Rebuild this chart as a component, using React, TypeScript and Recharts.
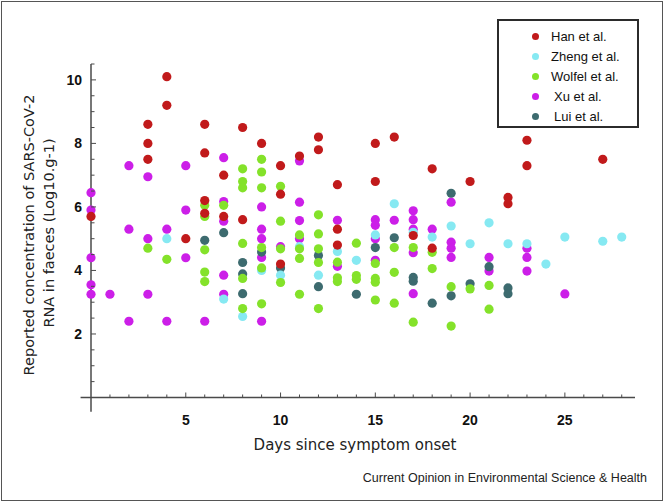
import React from 'react';
import { ScatterChart, Scatter, XAxis, YAxis, ReferenceLine, Legend } from 'recharts';

type Pt = { day: number; value: number };

// values (days since onset, log10 copies/g)
const hanData: Pt[] = [
  { day: 0, value: 5.7 },
  { day: 3, value: 8.6 }, { day: 3, value: 8.0 }, { day: 3, value: 7.5 },
  { day: 4, value: 10.1 }, { day: 4, value: 9.2 },
  { day: 5, value: 5.0 },
  { day: 6, value: 8.6 }, { day: 6, value: 7.7 }, { day: 6, value: 6.2 }, { day: 6, value: 5.8 },
  { day: 7, value: 7.0 }, { day: 7, value: 5.7 },
  { day: 8, value: 8.5 }, { day: 8, value: 5.6 },
  { day: 9, value: 8.0 },
  { day: 10, value: 7.3 }, { day: 10, value: 6.4 }, { day: 10, value: 4.2 },
  { day: 11, value: 7.6 },
  { day: 12, value: 8.2 }, { day: 12, value: 7.8 },
  { day: 13, value: 6.7 }, { day: 13, value: 5.3 }, { day: 13, value: 4.8 },
  { day: 15, value: 8.0 }, { day: 15, value: 6.8 },
  { day: 16, value: 8.2 },
  { day: 17, value: 5.1 },
  { day: 18, value: 7.2 }, { day: 18, value: 4.7 },
  { day: 20, value: 6.8 },
  { day: 22, value: 6.3 }, { day: 22, value: 6.1 },
  { day: 23, value: 8.1 }, { day: 23, value: 7.3 },
  { day: 27, value: 7.5 },
];

const zhengData: Pt[] = [
  { day: 4, value: 5.0 },
  { day: 7, value: 3.1 },
  { day: 8, value: 2.55 },
  { day: 9, value: 4.0 },
  { day: 10, value: 3.85 },
  { day: 11, value: 4.75 },
  { day: 12, value: 3.85 },
  { day: 13, value: 4.6 },
  { day: 14, value: 4.32 },
  { day: 15, value: 5.12 },
  { day: 16, value: 6.1 },
  { day: 17, value: 5.2 },
  { day: 18, value: 5.05 },
  { day: 19, value: 5.4 },
  { day: 20, value: 4.84 },
  { day: 21, value: 5.5 },
  { day: 22, value: 4.84 },
  { day: 23, value: 4.84 },
  { day: 24, value: 4.2 },
  { day: 25, value: 5.05 },
  { day: 27, value: 4.92 },
  { day: 28, value: 5.05 },
];

const wolfelData: Pt[] = [
  { day: 3, value: 4.7 },
  { day: 4, value: 4.35 },
  { day: 6, value: 6.05 }, { day: 6, value: 5.7 }, { day: 6, value: 4.65 }, { day: 6, value: 3.95 }, { day: 6, value: 3.65 },
  { day: 7, value: 6.05 },
  { day: 8, value: 7.2 }, { day: 8, value: 6.8 }, { day: 8, value: 6.6 }, { day: 8, value: 4.85 }, { day: 8, value: 3.75 }, { day: 8, value: 2.8 },
  { day: 9, value: 7.5 }, { day: 9, value: 7.1 }, { day: 9, value: 6.6 }, { day: 9, value: 4.72 }, { day: 9, value: 4.08 }, { day: 9, value: 2.95 },
  { day: 10, value: 6.65 }, { day: 10, value: 5.55 }, { day: 10, value: 4.68 }, { day: 10, value: 3.62 },
  { day: 11, value: 5.12 }, { day: 11, value: 4.68 }, { day: 11, value: 4.38 }, { day: 11, value: 3.25 },
  { day: 12, value: 5.75 }, { day: 12, value: 5.15 }, { day: 12, value: 4.68 }, { day: 12, value: 4.25 }, { day: 12, value: 2.8 },
  { day: 13, value: 4.26 }, { day: 13, value: 3.77 }, { day: 13, value: 3.65 },
  { day: 14, value: 4.86 }, { day: 14, value: 3.84 }, { day: 14, value: 3.72 },
  { day: 15, value: 4.22 }, { day: 15, value: 3.75 }, { day: 15, value: 3.63 }, { day: 15, value: 3.07 },
  { day: 16, value: 4.72 }, { day: 16, value: 3.94 }, { day: 16, value: 2.97 },
  { day: 17, value: 4.72 }, { day: 17, value: 2.37 },
  { day: 18, value: 4.57 }, { day: 18, value: 4.06 },
  { day: 19, value: 3.49 }, { day: 19, value: 2.25 },
  { day: 20, value: 3.42 },
  { day: 21, value: 3.53 }, { day: 21, value: 2.78 },
];

const xuData: Pt[] = [
  { day: 0, value: 6.45 }, { day: 0, value: 5.9 }, { day: 0, value: 4.4 }, { day: 0, value: 3.55 }, { day: 0, value: 3.25 },
  { day: 1, value: 3.25 },
  { day: 2, value: 7.3 }, { day: 2, value: 5.3 }, { day: 2, value: 2.4 },
  { day: 3, value: 6.95 }, { day: 3, value: 5.0 }, { day: 3, value: 3.25 },
  { day: 4, value: 5.3 }, { day: 4, value: 2.4 },
  { day: 5, value: 7.3 }, { day: 5, value: 5.9 }, { day: 5, value: 4.4 },
  { day: 6, value: 2.4 },
  { day: 7, value: 7.55 }, { day: 7, value: 6.17 }, { day: 7, value: 5.55 }, { day: 7, value: 3.85 }, { day: 7, value: 3.25 },
  { day: 9, value: 6.0 }, { day: 9, value: 5.3 }, { day: 9, value: 5.0 }, { day: 9, value: 4.41 }, { day: 9, value: 2.4 },
  { day: 10, value: 4.75 },
  { day: 11, value: 7.45 }, { day: 11, value: 6.15 }, { day: 11, value: 5.57 }, { day: 11, value: 5.0 },
  { day: 13, value: 5.58 }, { day: 13, value: 4.13 },
  { day: 15, value: 5.6 }, { day: 15, value: 5.42 }, { day: 15, value: 5.0 }, { day: 15, value: 4.32 },
  { day: 16, value: 5.58 },
  { day: 17, value: 5.88 }, { day: 17, value: 5.6 }, { day: 17, value: 5.3 }, { day: 17, value: 4.56 }, { day: 17, value: 3.27 },
  { day: 18, value: 5.3 },
  { day: 19, value: 6.15 }, { day: 19, value: 4.89 }, { day: 19, value: 4.7 }, { day: 19, value: 4.41 },
  { day: 21, value: 4.41 }, { day: 21, value: 3.98 },
  { day: 23, value: 4.7 }, { day: 23, value: 4.41 }, { day: 23, value: 3.98 },
  { day: 25, value: 3.26 },
];

const luiData: Pt[] = [
  { day: 6, value: 4.95 },
  { day: 7, value: 5.19 },
  { day: 8, value: 4.25 }, { day: 8, value: 3.89 }, { day: 8, value: 3.27 },
  { day: 9, value: 4.58 },
  { day: 10, value: 4.08 },
  { day: 12, value: 4.47 }, { day: 12, value: 3.49 },
  { day: 14, value: 3.25 },
  { day: 15, value: 4.72 },
  { day: 16, value: 5.03 },
  { day: 17, value: 3.78 }, { day: 17, value: 3.66 },
  { day: 18, value: 2.97 },
  { day: 19, value: 6.43 }, { day: 19, value: 3.2 },
  { day: 20, value: 3.58 },
  { day: 21, value: 4.12 },
  { day: 22, value: 3.45 }, { day: 22, value: 3.27 },
];

const xTicks = [1, 2, 3, 4, 5, 6, 7, 8, 9, 10, 11, 12, 13, 14, 15, 16, 17, 18, 19, 20, 21, 22, 23, 24, 25, 26, 27, 28];
const xLabelTicks = [5, 10, 15, 20, 25];
const yTicks = [0.5, 1, 1.5, 2, 2.5, 3, 3.5, 4, 4.5, 5, 5.5, 6, 6.5, 7, 7.5, 8, 8.5, 9, 9.5, 10, 10.5];
const yLabelTicks = [2, 4, 6, 8, 10];

const legendOrder = ['Han et al.', 'Zheng et al.', 'Wolfel et al.', 'Xu et al.', 'Lui et al.'];

const series = [
  { name: 'Xu et al.', color: '#cc1fe8', data: xuData },
  { name: 'Lui et al.', color: '#3d6b6f', data: luiData },
  { name: 'Zheng et al.', color: '#86e9f2', data: zhengData },
  { name: 'Wolfel et al.', color: '#84e22a', data: wolfelData },
  { name: 'Han et al.', color: '#c11a1b', data: hanData },
];

const axisColor = '#4a4a4a';
const sans = '"DejaVu Sans", "Liberation Sans", sans-serif';

const Dot = (props: any) => <circle cx={props.cx} cy={props.cy} r={4.6} fill={props.fill} />;

const XTick = (props: any) => {
  const { x, y, payload } = props;
  const major = xLabelTicks.includes(payload.value);
  return (
    <g>
      <line x1={x} y1={y} x2={x} y2={y - (major ? 5 : 3)} stroke={axisColor} strokeWidth={1} />
      {major && (
        <text x={x} y={y + 27} textAnchor="middle" fontFamily='"Liberation Sans", Arial, sans-serif' fontWeight="bold" fontSize={14} fill="#111">
          {payload.value}
        </text>
      )}
    </g>
  );
};

const YTick = (props: any) => {
  const { x, y, payload } = props;
  const major = yLabelTicks.includes(payload.value);
  return (
    <g>
      <line x1={x} y1={y} x2={x + (major ? 5 : 3.5)} y2={y} stroke={axisColor} strokeWidth={1} />
      {major && (
        <text x={x - 9} y={y + 5} textAnchor="end" fontFamily='"Liberation Sans", Arial, sans-serif' fontWeight="bold" fontSize={14} fill="#111">
          {payload.value}
        </text>
      )}
    </g>
  );
};

const LegendBox = () => (
  <div
    style={{
      position: 'absolute', left: 497, top: 19, width: 142, height: 109, boxSizing: 'border-box',
      border: '2px solid #2b2b2b', background: '#fff', fontFamily: '"Liberation Sans", Arial, sans-serif', fontSize: 13, color: '#111',
    }}
  >
    {legendOrder.map((name, i) => {
      const s = series.find((d) => d.name === name)!;
      return (
        <div key={name} style={{ position: 'absolute', left: 33, top: 6 + i * 20, height: 18, display: 'flex', alignItems: 'center' }}>
          <span style={{ width: 7, height: 7, borderRadius: '50%', background: s.color, display: 'inline-block' }} />
          <span style={{ marginLeft: 12 + (i >= 3 ? 3 : 0) }}>{name}</span>
        </div>
      );
    })}
  </div>
);

export default function App() {
  return (
    <div style={{ position: 'absolute', left: 0, top: 0, width: 666, height: 504, background: '#fff' }}>
      <div style={{ position: 'absolute', left: 1, top: 1, width: 662, height: 500, border: '1.5px solid #555', boxSizing: 'border-box' }} />
      <ScatterChart width={666} height={504} margin={{ top: 64, right: 31, bottom: 76.5, left: 51 }}>
        <XAxis
          type="number" dataKey="day" domain={[0, 28.7]} ticks={xTicks} interval={0}
          axisLine={false} tickLine={false} tickSize={0} tickMargin={0} height={30} tick={<XTick />}
        />
        <YAxis
          type="number" dataKey="value" domain={[0, 10.5]} ticks={yTicks} interval={0}
          axisLine={false} tickLine={false} tickSize={0} tickMargin={0} width={40} tick={<YTick />}
        />
        <ReferenceLine segment={[{ x: -0.55, y: 0 }, { x: 28.7, y: 0 }]} stroke={axisColor} strokeWidth={1.5} ifOverflow="visible" />
        <ReferenceLine segment={[{ x: 0, y: -0.45 }, { x: 0, y: 10.5 }]} stroke={axisColor} strokeWidth={1.5} ifOverflow="visible" />
        {series.map((s) => (
          <Scatter key={s.name} name={s.name} data={s.data} fill={s.color} shape={<Dot />} isAnimationActive={false} />
        ))}
        <Legend content={() => null} />
      </ScatterChart>
      <svg width={666} height={504} style={{ position: 'absolute', left: 0, top: 0, pointerEvents: 'none' }}>
        <text transform="translate(34,235) rotate(-90)" textAnchor="middle" fontFamily={sans} fontSize={14.5} fill="#222">
          Reported concentration of SARS-CoV-2
        </text>
        <text transform="translate(54,233) rotate(-90)" textAnchor="middle" fontFamily={sans} fontSize={14.5} fill="#222">
          RNA in faeces (Log10.g-1)
        </text>
        <text x={355} y={450} textAnchor="middle" fontFamily={sans} fontSize={15} fill="#222">
          Days since symptom onset
        </text>
      </svg>
      <div style={{ position: 'absolute', right: 19, top: 471, fontFamily: '"Liberation Sans", Arial, sans-serif', fontSize: 12.5, color: '#222', whiteSpace: 'nowrap' }}>
        Current Opinion in Environmental Science &amp; Health
      </div>
      <LegendBox />
    </div>
  );
}
